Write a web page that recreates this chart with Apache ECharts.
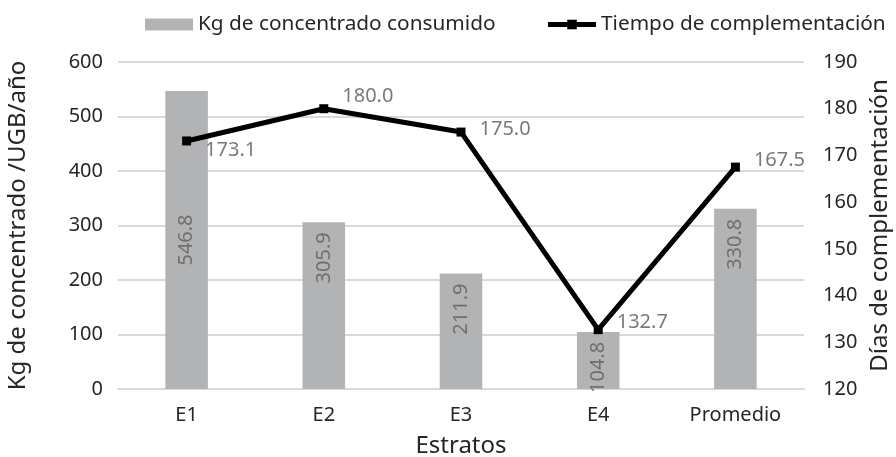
<!DOCTYPE html>
<html>
<head>
<meta charset="utf-8">
<script src="https://cdn.jsdelivr.net/npm/echarts@6/dist/echarts.min.js"></script>
<style>
  html, body { margin: 0; padding: 0; background: #fff; }
  #chart { width: 896px; height: 457px; }
</style>
</head>
<body>
<div id="chart"></div>
<script>
// datos del grafico
const estratos = ['E1', 'E2', 'E3', 'E4', 'Promedio']
const kgConcentrado = [546.8, 305.9, 211.9, 104.8, 330.8]
const diasComplementacion = [173.1, 180.0, 175.0, 132.7, 167.5]

const chart = echarts.init(document.getElementById('chart'))
const font = 'Noto Sans'

// etiqueta de E1 centrada en la barra, las demas arriba
const barData = kgConcentrado.map((v, i) => i === 0
  ? { value: v, label: { position: 'inside', align: 'center' } }
  : v)

// desplazamiento vertical de cada etiqueta de la linea
const lineLabelDy = [9, -12, -3, -7, -7]
const lineData = diasComplementacion.map((v, i) => ({
  value: v,
  label: { offset: [0, lineLabelDy[i]] }
}))

const option = {
  textStyle: { fontFamily: font },
  animation: false,
  legend: {
    left: 145,
    top: 14,
    width: 900,
    itemGap: 50,
    itemWidth: 48,
    itemHeight: 12,
    padding: 0,
    textStyle: { fontSize: 20.8, color: '#262626', fontFamily: font },
    data: [
      { name: 'Kg de concentrado consumido', icon: 'rect' },
      { name: 'Tiempo de complementación', lineStyle: { width: 5 } }
    ]
  },
  grid: { left: 118, right: 92, top: 62, bottom: 68, outerBoundsMode: 'none' },
  xAxis: {
    type: 'category',
    data: estratos,
    name: 'Estratos',
    nameLocation: 'middle',
    nameGap: 45,
    nameTextStyle: { fontSize: 24, color: '#262626' },
    axisLine: { lineStyle: { color: '#d9d9d9', width: 2 } },
    axisTick: { show: false },
    axisLabel: { fontSize: 20, color: '#262626', margin: 16 }
  },
  yAxis: [
    {
      type: 'value',
      min: 0,
      max: 600,
      interval: 100,
      name: 'Kg de concentrado /UGB/año',
      nameLocation: 'middle',
      nameGap: 88,
      nameTextStyle: { fontSize: 24, color: '#262626' },
      axisLabel: { fontSize: 20, color: '#262626', margin: 15 },
      splitLine: { lineStyle: { color: '#d9d9d9', width: 2 } }
    },
    {
      type: 'value',
      min: 120,
      max: 190,
      interval: 10,
      name: 'Días de complementación',
      nameLocation: 'middle',
      nameGap: 62,
      nameRotate: 90,
      nameTextStyle: { fontSize: 24, color: '#262626' },
      axisLabel: { fontSize: 20, color: '#262626', margin: 19 },
      splitLine: { show: false }
    }
  ],
  series: [
    {
      name: 'Kg de concentrado consumido',
      type: 'bar',
      data: barData,
      barWidth: '31%',
      itemStyle: { color: '#b1b3b5' },
      label: {
        show: true,
        position: 'insideTop',
        rotate: 90,
        align: 'right',
        verticalAlign: 'middle',
        distance: 10,
        fontSize: 20,
        color: '#6f6f6f',
        formatter: p => p.value.toFixed(1)
      }
    },
    {
      name: 'Tiempo de complementación',
      type: 'line',
      yAxisIndex: 1,
      data: lineData,
      symbol: 'rect',
      symbolSize: 9,
      lineStyle: { color: '#000', width: 5 },
      itemStyle: { color: '#000' },
      label: {
        show: true,
        position: 'right',
        distance: 14,
        fontSize: 20,
        color: '#7a7a7a',
        formatter: p => p.value.toFixed(1)
      }
    }
  ]
}

chart.setOption(option)
</script>
</body>
</html>
